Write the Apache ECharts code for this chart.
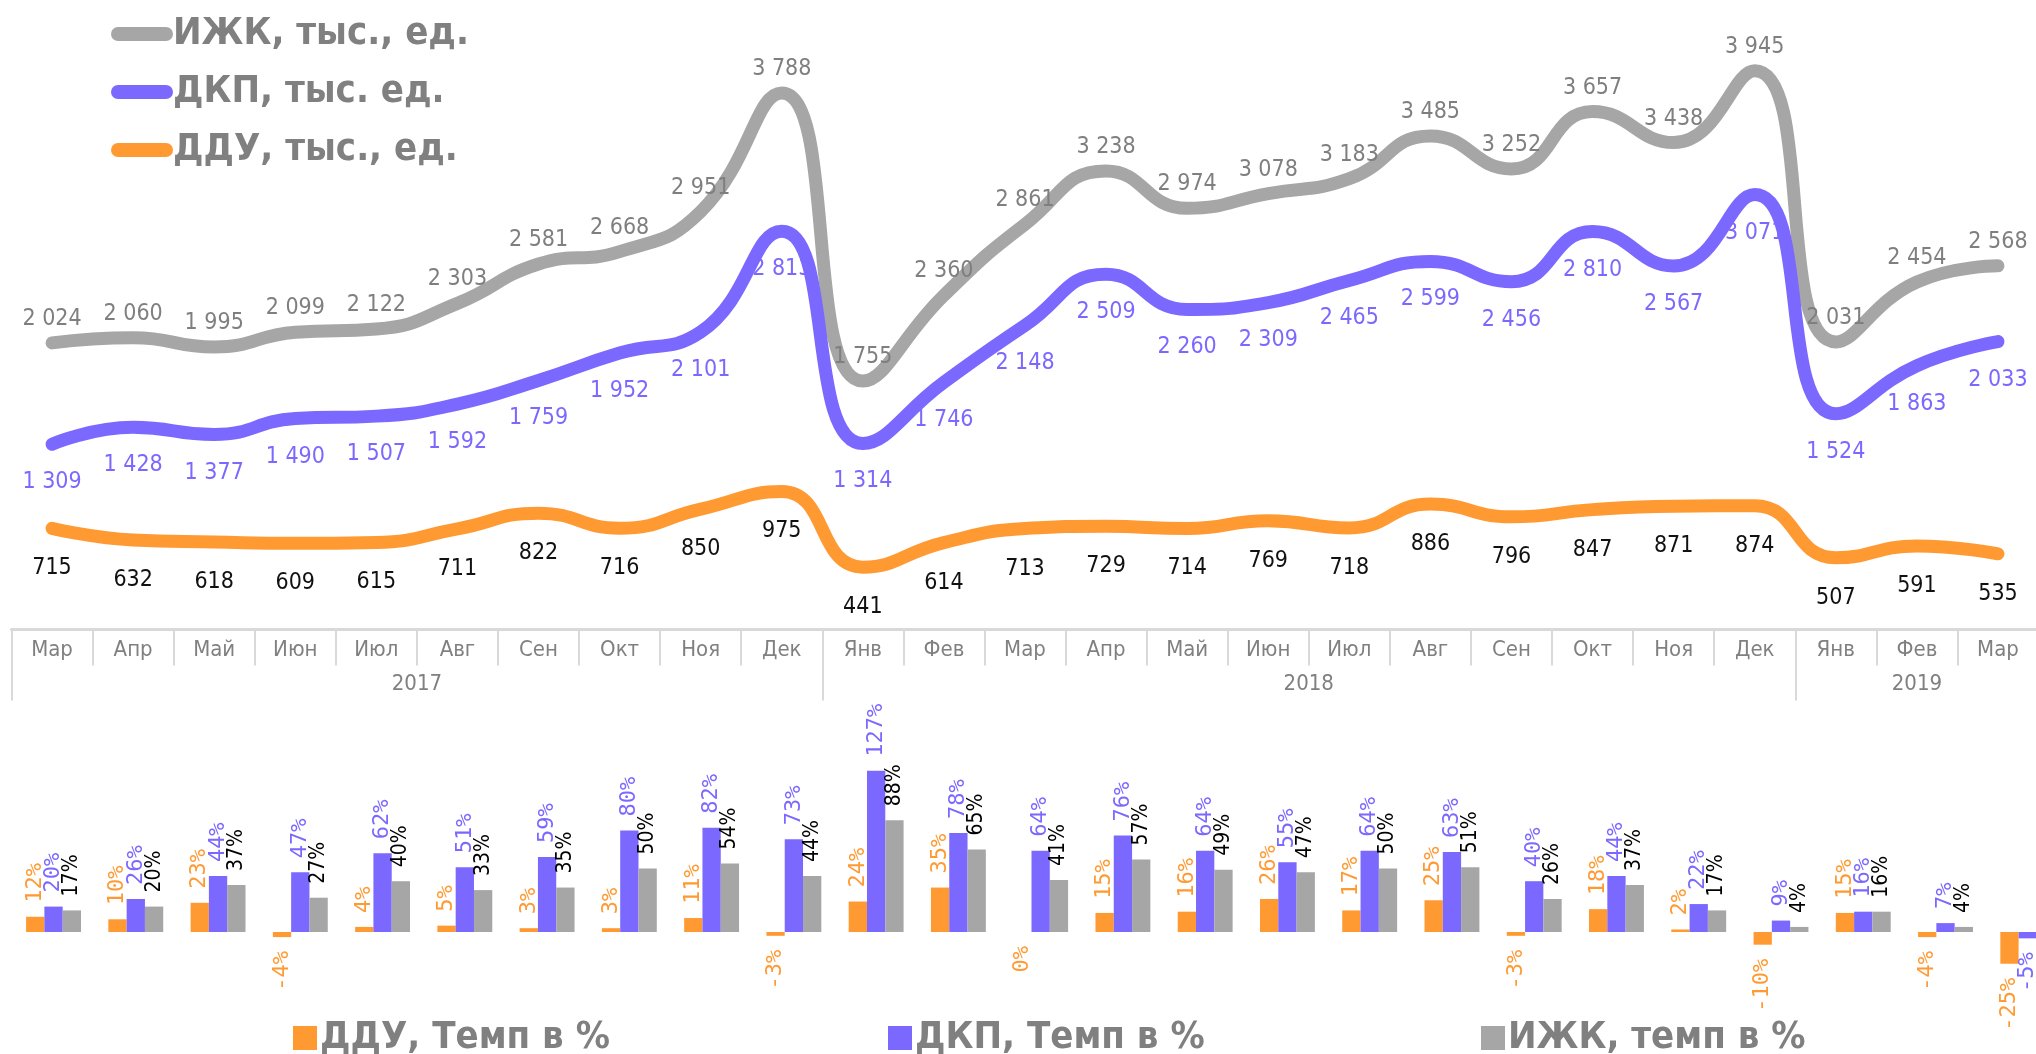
<!DOCTYPE html>
<html>
<head>
<meta charset="utf-8">
<script src="https://cdn.jsdelivr.net/npm/echarts@6/dist/echarts.min.js"></script>
<style>
  html, body { margin: 0; padding: 0; background: #fff; overflow: hidden; }
  /* wider than the window: the reference crops the last bar group at the right edge */
  #chart { width: 2080px; height: 1054px; }
</style>
</head>
<body>
<div id="chart"></div>
<script>
// categories
const months = ['Мар', 'Апр', 'Май', 'Июн', 'Июл', 'Авг', 'Сен', 'Окт', 'Ноя', 'Дек',
  'Янв', 'Фев', 'Мар', 'Апр', 'Май', 'Июн', 'Июл', 'Авг', 'Сен', 'Окт', 'Ноя', 'Дек',
  'Янв', 'Фев', 'Мар'];
const years = ['2017', '2018', '2019'];
const monthsPerYear = [10, 12, 3];

// deals, thousands
const izhk = [2024, 2060, 1995, 2099, 2122, 2303, 2581, 2668, 2951, 3788, 1755, 2360, 2861,
  3238, 2974, 3078, 3183, 3485, 3252, 3657, 3438, 3945, 2031, 2454, 2568];
const dkp = [1309, 1428, 1377, 1490, 1507, 1592, 1759, 1952, 2101, 2813, 1314, 1746, 2148,
  2509, 2260, 2309, 2465, 2599, 2456, 2810, 2567, 3071, 1524, 1863, 2033];
const ddu = [715, 632, 618, 609, 615, 711, 822, 716, 850, 975, 441, 614, 713,
  729, 714, 769, 718, 886, 796, 847, 871, 874, 507, 591, 535];

// growth, %
const dduRate = [12, 10, 23, -4, 4, 5, 3, 3, 11, -3, 24, 35, 0, 15, 16, 26, 17, 25, -3, 18, 2, -10, 15, -4, -25];
const dkpRate = [20, 26, 44, 47, 62, 51, 59, 80, 82, 73, 127, 78, 64, 76, 64, 55, 64, 63, 40, 44, 22, 9, 16, 7, -5];
const izhkRate = [17, 20, 37, 27, 40, 33, 35, 50, 54, 44, 88, 65, 41, 57, 49, 47, 50, 51, 26, 37, 17, 4, 16, 4, -10];

const GRAY = '#a6a6a6', PURPLE = '#7b68ff', ORANGE = '#ff9a33';
const NARROW = "'Liberation Sans Narrow', 'DejaVu Sans Condensed', sans-serif";
const MONO = "'DejaVu Sans Mono', monospace";

// year axis: half-month steps so labels can sit on group centres
const yearEdges = [], yearCenters = [];
let pos = 0;
monthsPerYear.forEach(n => {
  yearEdges.push(pos * 2);
  yearCenters.push(pos * 2 + n);
  pos += n;
});
const halfSteps = [];
for (let i = 0; i <= pos * 2; i++) halfSteps.push(String(i));

const fmtThousands = p => String(p.value).replace(/\B(?=(\d{3})+(?!\d))/g, ' ');

function lineSeries(name, data, color, labelColor, position, distance) {
  return {
    name: name,
    type: 'line',
    xAxisIndex: 0,
    yAxisIndex: 0,
    data: data,
    smooth: 0.5,
    symbol: 'circle',
    symbolSize: 1,
    itemStyle: { color: color },
    lineStyle: { color: color, width: 13, cap: 'round', join: 'round' },
    label: {
      show: true,
      position: position,
      distance: distance,
      color: labelColor,
      fontFamily: NARROW,
      fontSize: 23,
      formatter: fmtThousands
    },
    z: 2
  };
}

function barData(vals) {
  return vals.map(v => ({
    value: v,
    label: v > 0 ? { position: 'top', align: 'left' } : { position: 'bottom', align: 'right' }
  }));
}

function barSeries(name, vals, color, labelColor, font, size) {
  return {
    name: name,
    type: 'bar',
    xAxisIndex: 2,
    yAxisIndex: 1,
    data: barData(vals),
    barWidth: 18.3,
    barGap: '0%',
    itemStyle: { color: color },
    label: {
      show: true,
      rotate: 90,
      verticalAlign: 'middle',
      distance: 14,
      color: labelColor,
      fontFamily: font,
      fontSize: size,
      formatter: p => p.value + '%'
    }
  };
}

const bottomLegend = (name, left) => ({
  data: [name], left: left, top: 1014, icon: 'rect', itemWidth: 24, itemHeight: 24, itemGap: 6,
  textStyle: { color: '#808080', fontFamily: NARROW, fontWeight: 'bold', fontSize: 38, padding: [0, 0, 0, -2] }
});

const chart = echarts.init(document.getElementById('chart'));

chart.setOption({
  animation: false,
  backgroundColor: '#fff',
  legend: [
    {
      data: ['ИЖК, тыс., ед.', 'ДКП, тыс. ед.', 'ДДУ, тыс., ед.'],
      orient: 'vertical',
      left: 106,
      top: 6,
      itemGap: 12,
      itemWidth: 62,
      itemHeight: 14,
      icon: 'path://M7,0 H55 A7,7 0 0 1 55,14 H7 A7,7 0 0 1 7,0 Z',
      textStyle: { color: '#808080', fontFamily: NARROW, fontWeight: 'bold', fontSize: 38, lineHeight: 46, padding: [0, 0, 0, -5] }
    },
    bottomLegend('ДДУ, Темп в %', 288),
    bottomLegend('ДКП, Темп в %', 883),
    bottomLegend('ИЖК, темп в %', 1476)
  ],
  grid: [
    { left: 11.5, width: 2027, top: 63, height: 566.6 },
    { left: 12.4, width: 2056.5, top: 741.5, height: 254 }
  ],
  xAxis: [
    {
      gridIndex: 0,
      type: 'category',
      data: months,
      position: 'bottom',
      axisLine: { lineStyle: { color: '#d9d9d9', width: 3 } },
      axisTick: { show: true, interval: 0, length: 36, lineStyle: { color: '#d9d9d9', width: 2 } },
      axisLabel: { interval: 0, margin: 10, color: '#808080', fontFamily: NARROW, fontSize: 22 }
    },
    {
      gridIndex: 0,
      type: 'category',
      data: halfSteps,
      boundaryGap: false,
      position: 'bottom',
      axisLine: { show: false },
      axisTick: {
        show: true,
        length: 71,
        interval: idx => yearEdges.indexOf(idx) >= 0,
        lineStyle: { color: '#d9d9d9', width: 2 }
      },
      axisLabel: {
        margin: 44,
        interval: idx => yearCenters.indexOf(idx) >= 0,
        formatter: (v, idx) => years[yearCenters.indexOf(idx)] || '',
        color: '#808080',
        fontFamily: NARROW,
        fontSize: 22
      }
    },
    {
      gridIndex: 1,
      type: 'category',
      data: months,
      show: false
    }
  ],
  yAxis: [
    { gridIndex: 0, type: 'value', min: 0, max: 4000, show: false, splitLine: { show: false } },
    { gridIndex: 1, type: 'value', min: -50, max: 150, show: false, splitLine: { show: false } }
  ],
  series: [
    lineSeries('ИЖК, тыс., ед.', izhk, GRAY, '#7f7f7f', 'top', 12),
    lineSeries('ДКП, тыс. ед.', dkp, PURPLE, PURPLE, 'bottom', 26),
    lineSeries('ДДУ, тыс., ед.', ddu, ORANGE, '#111', 'bottom', 28),
    barSeries('ДДУ, Темп в %', dduRate, ORANGE, ORANGE, MONO, 22),
    barSeries('ДКП, Темп в %', dkpRate, PURPLE, PURPLE, MONO, 22),
    barSeries('ИЖК, темп в %', izhkRate, GRAY, '#000', NARROW, 21)
  ]
});
</script>
</body>
</html>
